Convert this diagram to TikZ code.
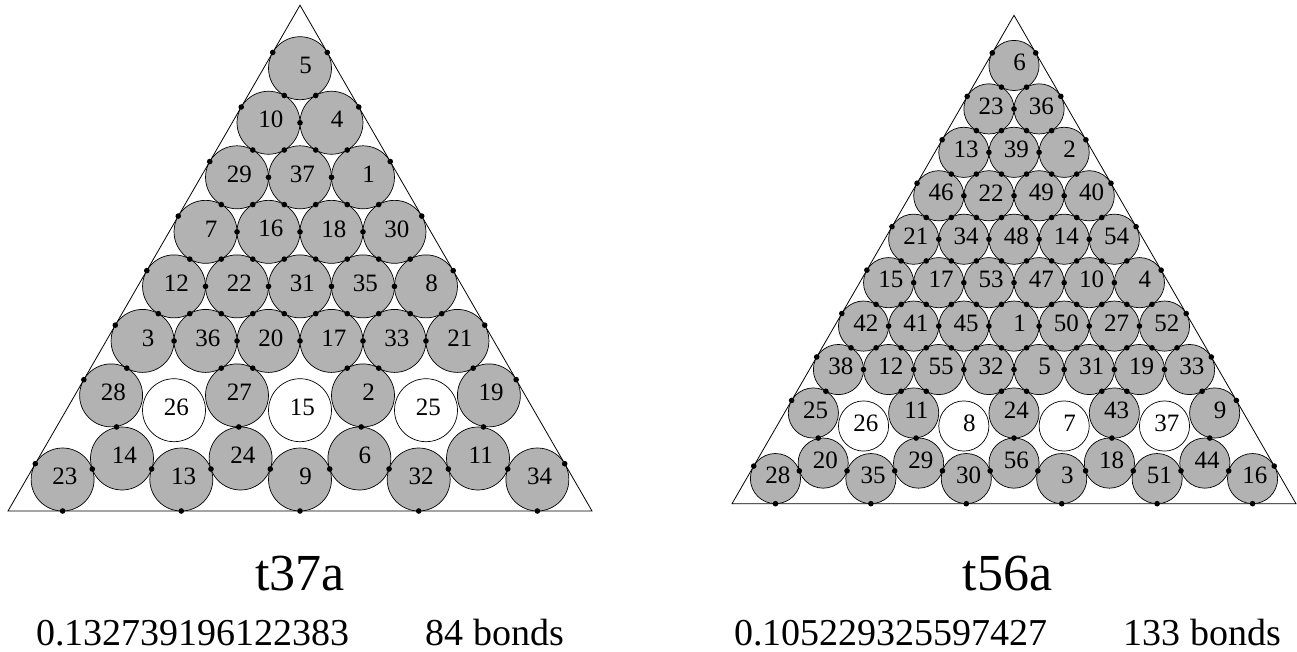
\documentclass[tikz,border=0pt]{standalone}
\usepackage{fontspec}
\setmainfont{Liberation Serif}
\usetikzlibrary{calc}
\definecolor{cfill}{gray}{0.7}
\tikzset{
  gc/.style={circle, draw=black, fill=cfill, line width=0.7pt, minimum size=#1, inner sep=0pt, outer sep=0pt},
  wc/.style={circle, draw=black, fill=white, line width=0.7pt, minimum size=#1, inner sep=0pt, outer sep=0pt},
  lab/.style={anchor=east, inner sep=0pt, font=\fontsize{25}{25}\selectfont},
  tri/.style={draw=black, line width=0.8pt, line join=miter},
  title/.style={inner sep=0pt, font=\fontsize{52}{52}\selectfont},
  info/.style={inner sep=0pt, font=\fontsize{38}{38}\selectfont},
}
\newcommand\cbond[2]{\fill ($(#1.center)!0.5!(#2.center)$) circle (2.8pt);}
\newcommand\cwall[3]{\fill ($(#2)!(#1.center)!(#3)$) circle (2.8pt);}
\newcommand\disk[5]{%
  \node[#1] (#2) at (#3,#4) {};
  \pgfmathsetmacro\lx{#3 + (#5<10 ? 12 : 15)}%
  \node[lab] (#2t) at (\lx,#4-3) {#5};}
\begin{document}
\begin{tikzpicture}[x=1pt,y=-1pt]
\useasboundingbox (0,0) rectangle (1297,652);
% ================= left: t37a =================
\def\rA{31.49}\def\dA{62.98pt}
\coordinate (LTa) at (300,5.23);
\coordinate (LTb) at (8,511);
\coordinate (LTc) at (592,511);
\draw[tri] (LTa) -- (LTb) -- (LTc) -- cycle;
\foreach \k/\labs in {1/{5},2/{10,4},3/{29,37,1},4/{7,16,18,30},5/{12,22,31,35,8},6/{3,36,20,17,33,21}} {
  \foreach \lab [count=\j from 0] in \labs {
    \pgfmathsetmacro\px{300 + (2*\j - (\k-1))*\rA}
    \pgfmathsetmacro\py{5.23 + 2*\rA + (\k-1)*1.7320508*\rA}
    \disk{gc=\dA}{L\k-\j}{\px}{\py}{\lab}
  }
}
\disk{gc=\dA}{L7-0}{111.1}{395.4}{28}
\disk{wc=\dA}{L7-1}{174.0}{410.2}{26}
\disk{gc=\dA}{L7-2}{237.0}{395.4}{27}
\disk{wc=\dA}{L7-3}{300.0}{410.2}{15}
\disk{gc=\dA}{L7-4}{363.0}{395.4}{2}
\disk{wc=\dA}{L7-5}{426.0}{410.2}{25}
\disk{gc=\dA}{L7-6}{488.9}{395.4}{19}
\disk{gc=\dA}{Lb0}{62.6}{479.5}{23}
\disk{gc=\dA}{Lb1}{122.0}{458.5}{14}
\disk{gc=\dA}{Lb2}{181.3}{479.5}{13}
\disk{gc=\dA}{Lb3}{240.6}{458.5}{24}
\disk{gc=\dA}{Lb4}{300.0}{479.5}{9}
\disk{gc=\dA}{Lb5}{359.4}{458.5}{6}
\disk{gc=\dA}{Lb6}{418.7}{479.5}{32}
\disk{gc=\dA}{Lb7}{478.0}{458.5}{11}
\disk{gc=\dA}{Lb8}{537.4}{479.5}{34}
% contacts
\foreach \k in {1,...,6} {
  \pgfmathtruncatemacro\km{\k-1}
  \foreach \j in {0,...,\km} {
    \pgfmathtruncatemacro\jn{\j+1}
    \pgfmathtruncatemacro\kn{\k+1}
    \ifnum\j<\km \cbond{L\k-\j}{L\k-\jn}\fi
    \ifnum\k<6 \cbond{L\k-\j}{L\kn-\j}\cbond{L\k-\j}{L\kn-\jn}\fi
  }
  \cwall{L\k-0}{LTa}{LTb}
  \cwall{L\k-\km}{LTa}{LTc}
}
\cbond{L6-0}{L7-0}\cbond{L6-1}{L7-2}\cbond{L6-2}{L7-2}
\cbond{L6-3}{L7-4}\cbond{L6-4}{L7-4}\cbond{L6-5}{L7-6}
\cwall{L7-0}{LTa}{LTb}\cwall{L7-6}{LTa}{LTc}
\cbond{L7-0}{Lb1}\cbond{L7-2}{Lb3}\cbond{L7-4}{Lb5}\cbond{L7-6}{Lb7}
\foreach \i [evaluate=\i as \n using int(\i+1)] in {0,...,7} {\cbond{Lb\i}{Lb\n}}
\cwall{Lb0}{LTa}{LTb}\cwall{Lb8}{LTa}{LTc}
\foreach \i in {0,2,4,6,8} {\cwall{Lb\i}{LTb}{LTc}}
\node[title] (Lname) at (300,574) {t37a};
\node[info] (Linfo) at (300,633) {0.132739196122383\hspace{2em}84 bonds};
% ================= right: t56a =================
\def\rB{25.08}\def\dB{50.16pt}
\coordinate (RTa) at (1014,15.3);
\coordinate (RTb) at (732,503.7);
\coordinate (RTc) at (1296,503.7);
\draw[tri] (RTa) -- (RTb) -- (RTc) -- cycle;
\foreach \k/\labs in {1/{6},2/{23,36},3/{13,39,2},4/{46,22,49,40},5/{21,34,48,14,54},6/{15,17,53,47,10,4},7/{42,41,45,1,50,27,52},8/{38,12,55,32,5,31,19,33}} {
  \foreach \lab [count=\j from 0] in \labs {
    \pgfmathsetmacro\px{1014 + (2*\j - (\k-1))*\rB}
    \pgfmathsetmacro\py{15.3 + 2*\rB + (\k-1)*1.7320508*\rB}
    \disk{gc=\dB}{R\k-\j}{\px}{\py}{\lab}
  }
}
\disk{gc=\dB}{R9-0}{813.36}{413.0}{25}
\disk{wc=\dB}{R9-1}{863.52}{426.0}{26}
\disk{gc=\dB}{R9-2}{913.68}{413.0}{11}
\disk{wc=\dB}{R9-3}{963.84}{426.0}{8}
\disk{gc=\dB}{R9-4}{1014.0}{413.0}{24}
\disk{wc=\dB}{R9-5}{1064.16}{426.0}{7}
\disk{gc=\dB}{R9-6}{1114.32}{413.0}{43}
\disk{wc=\dB}{R9-7}{1164.48}{426.0}{37}
\disk{gc=\dB}{R9-8}{1214.64}{413.0}{9}
\disk{gc=\dB}{Rb0}{775.45}{478.6}{28}
\disk{gc=\dB}{Rb1}{823.16}{463.1}{20}
\disk{gc=\dB}{Rb2}{870.87}{478.6}{35}
\disk{gc=\dB}{Rb3}{918.58}{463.1}{29}
\disk{gc=\dB}{Rb4}{966.29}{478.6}{30}
\disk{gc=\dB}{Rb5}{1014.0}{463.1}{56}
\disk{gc=\dB}{Rb6}{1061.71}{478.6}{3}
\disk{gc=\dB}{Rb7}{1109.42}{463.1}{18}
\disk{gc=\dB}{Rb8}{1157.13}{478.6}{51}
\disk{gc=\dB}{Rb9}{1204.84}{463.1}{44}
\disk{gc=\dB}{Rb10}{1252.55}{478.6}{16}
\foreach \k in {1,...,8} {
  \pgfmathtruncatemacro\km{\k-1}
  \foreach \j in {0,...,\km} {
    \pgfmathtruncatemacro\jn{\j+1}
    \pgfmathtruncatemacro\kn{\k+1}
    \ifnum\j<\km \cbond{R\k-\j}{R\k-\jn}\fi
    \ifnum\k<8 \cbond{R\k-\j}{R\kn-\j}\cbond{R\k-\j}{R\kn-\jn}\fi
  }
  \cwall{R\k-0}{RTa}{RTb}
  \cwall{R\k-\km}{RTa}{RTc}
}
\cbond{R8-0}{R9-0}\cbond{R8-1}{R9-2}\cbond{R8-2}{R9-2}\cbond{R8-3}{R9-4}
\cbond{R8-4}{R9-4}\cbond{R8-5}{R9-6}\cbond{R8-6}{R9-6}\cbond{R8-7}{R9-8}
\cwall{R9-0}{RTa}{RTb}\cwall{R9-8}{RTa}{RTc}
\cbond{R9-0}{Rb1}\cbond{R9-2}{Rb3}\cbond{R9-4}{Rb5}\cbond{R9-6}{Rb7}\cbond{R9-8}{Rb9}
\foreach \i [evaluate=\i as \n using int(\i+1)] in {0,...,9} {\cbond{Rb\i}{Rb\n}}
\cwall{Rb0}{RTa}{RTb}\cwall{Rb10}{RTa}{RTc}
\foreach \i in {0,2,4,6,8,10} {\cwall{Rb\i}{RTb}{RTc}}
\node[title] (Rname) at (1007.5,574) {t56a};
\node[info] (Rinfo) at (1007.5,633) {0.105229325597427\hspace{2em}133 bonds};
\end{tikzpicture}
\end{document}
